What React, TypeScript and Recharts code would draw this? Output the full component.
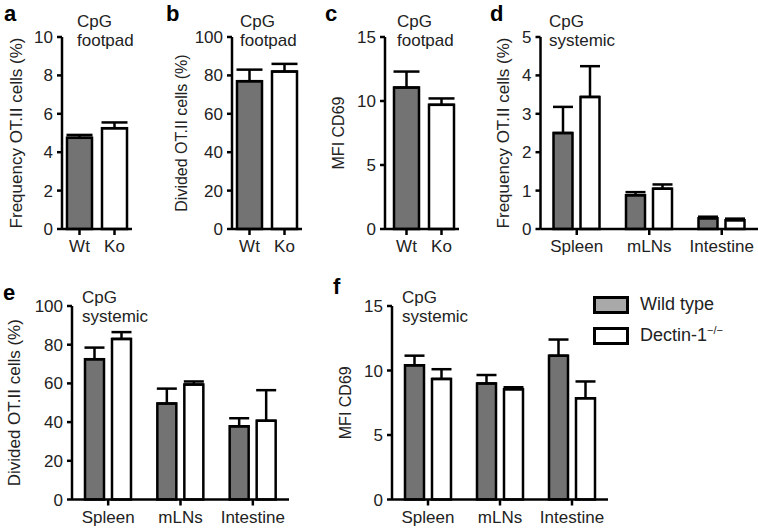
import React from 'react';
import { BarChart, Bar, Cell, XAxis, YAxis, ErrorBar, Legend } from 'recharts';

// footpad panels (a-c): one bar per genotype
const footpadGroups = ['Wt', 'Ko'];
const freqFootpad = [4.75, 5.25];
const freqFootpadErr = [0.15, 0.3];
const dividedFootpad = [77, 82];
const dividedFootpadErr = [6, 4];
const mfiFootpad = [11.05, 9.7];
const mfiFootpadErr = [1.25, 0.5];

// systemic panels (d-f): wild type vs dectin-1 KO per tissue
const tissues = ['Spleen', 'mLNs', 'Intestine'];
const freqSystemicWt = [2.5, 0.88, 0.28];
const freqSystemicWtErr = [0.68, 0.08, 0.04];
const freqSystemicKo = [3.44, 1.05, 0.23];
const freqSystemicKoErr = [0.8, 0.11, 0.04];
const dividedSystemicWt = [72.5, 49.6, 37.8];
const dividedSystemicWtErr = [6, 7.7, 4.2];
const dividedSystemicKo = [83, 59.4, 40.7];
const dividedSystemicKoErr = [3.5, 1.6, 15.8];
const mfiSystemicWt = [10.4, 9.0, 11.15];
const mfiSystemicWtErr = [0.75, 0.65, 1.25];
const mfiSystemicKo = [9.35, 8.55, 7.85];
const mfiSystemicKoErr = [0.75, 0.15, 1.3];

const seriesKeys = ['wt', 'ko'];
const seriesNames = ['Wild type', 'Dectin-1'];
const seriesSup = ['', '\u2212/\u2212'];

const tickPct10 = [0, 2, 4, 6, 8, 10];
const tickPct100 = [0, 20, 40, 60, 80, 100];
const tickMfi = [0, 5, 10, 15];
const tickFreq5 = [0, 1, 2, 3, 4, 5];

const FONT = '"Liberation Sans", Arial, Helvetica, sans-serif';
const TEXT = '#222';
const WT_FILL = '#737373';
const KO_FILL = '#ffffff';
const LEGEND_FILLS = ['#a9a9a9', '#ffffff'];
const XH = 40;
const TOP = 10;
const LINE_W = 2.5;

const footpadRows = (vals: number[], errs: number[]) =>
  footpadGroups.map((name, i) => ({ name, value: vals[i], err: [0, errs[i]] }));

const systemicRows = (wt: number[], wtErr: number[], ko: number[], koErr: number[]) =>
  tissues.map((name, i) => ({
    name,
    wt: wt[i],
    wtErr: [0, wtErr[i]],
    ko: ko[i],
    koErr: [0, koErr[i]],
  }));

type Frame = {
  axisX: number;
  topY: number;
  bottomY: number;
  rightX: number;
  labelX: number;
  extraRight?: number;
};

function frame(f: Frame) {
  const yw = f.axisX - f.labelX + 20;
  const plotW = f.rightX - f.axisX;
  const plotH = f.bottomY - f.topY;
  return {
    yw,
    style: { position: 'absolute' as const, left: f.axisX - yw, top: f.topY - TOP },
    width: yw + plotW + (f.extraRight || 0),
    height: TOP + plotH + XH,
  };
}

const axisLine = { stroke: '#000', strokeWidth: LINE_W };
const tickStyle = { fill: TEXT, fontSize: 17, fontFamily: FONT };

function yLabel(value: string, size: number) {
  return {
    value,
    angle: -90,
    position: 'insideLeft' as const,
    offset: 20,
    style: { textAnchor: 'middle', fill: TEXT, fontSize: size, fontFamily: FONT },
  };
}

function FootpadPanel(props: {
  f: Frame;
  rows: any[];
  yMax: number;
  ticks: number[];
  label: string;
  labelSize?: number;
  padLeft?: number;
}) {
  const fr = frame(props.f);
  return (
    <div style={fr.style}>
      <BarChart width={fr.width} height={fr.height} data={props.rows}
        margin={{ top: TOP, right: 0, left: 0, bottom: 0 }}>
        <XAxis dataKey="name" height={XH} axisLine={axisLine} tickLine={axisLine}
          tickSize={6} tickMargin={5} tick={tickStyle} interval={0}
          padding={{ left: props.padLeft || 0, right: 0 }} />
        <YAxis width={fr.yw} domain={[0, props.yMax]} ticks={props.ticks} axisLine={axisLine}
          tickLine={axisLine} tickSize={5} tickMargin={4} tick={tickStyle}
          label={yLabel(props.label, props.labelSize || 16)} />
        <Bar dataKey="value" barSize={25} stroke="#000" strokeWidth={LINE_W} isAnimationActive={false}>
          {props.rows.map((_, i) => (
            <Cell key={i} fill={i === 0 ? WT_FILL : KO_FILL} />
          ))}
          <ErrorBar dataKey="err" width={13} stroke="#000" strokeWidth={LINE_W} />
        </Bar>
      </BarChart>
    </div>
  );
}

function GenotypeLegend(props: any) {
  const payload: any[] = props.payload || [];
  const ordered = seriesKeys.map((k) => payload.find((p) => p.dataKey === k)).filter(Boolean);
  return (
    <div style={{ fontFamily: FONT, fontSize: 18, color: TEXT }}>
      {ordered.map((entry: any, i: number) => (
        <div key={i} style={{ display: 'flex', alignItems: 'center', height: 31 }}>
          <svg width={36} height={18} style={{ marginRight: 11 }}>
            <rect x={1.5} y={1.5} width={33} height={15} fill={LEGEND_FILLS[i]} stroke="#000" strokeWidth={3} />
          </svg>
          <span>
            {entry.value}
            {seriesSup[i] ? (
              <sup style={{ fontSize: 11, verticalAlign: 'baseline', position: 'relative', top: -7 }}>
                {seriesSup[i]}
              </sup>
            ) : null}
          </span>
        </div>
      ))}
    </div>
  );
}

function SystemicPanel(props: {
  f: Frame;
  rows: any[];
  yMax: number;
  ticks: number[];
  label: string;
  labelSize?: number;
  legend?: { left: number; top: number };
}) {
  const fr = frame(props.f);
  const chartLeft = props.f.axisX - fr.yw;
  const chartTop = props.f.topY - TOP;
  return (
    <div style={fr.style}>
      <BarChart width={fr.width} height={fr.height} data={props.rows} barGap={8}
        margin={{ top: TOP, right: props.f.extraRight || 0, left: 0, bottom: 0 }}>
        <XAxis dataKey="name" height={XH} axisLine={axisLine} tickLine={axisLine}
          tickSize={6} tickMargin={5} tick={tickStyle} interval={0} />
        <YAxis width={fr.yw} domain={[0, props.yMax]} ticks={props.ticks} axisLine={axisLine}
          tickLine={axisLine} tickSize={5} tickMargin={4} tick={tickStyle}
          label={yLabel(props.label, props.labelSize || 16)} />
        <Bar dataKey="wt" name={seriesNames[0]} barSize={19} fill={WT_FILL} stroke="#000"
          strokeWidth={LINE_W} isAnimationActive={false}>
          <ErrorBar dataKey="wtErr" width={10} stroke="#000" strokeWidth={LINE_W} />
        </Bar>
        <Bar dataKey="ko" name={seriesNames[1]} barSize={19} fill={KO_FILL} stroke="#000"
          strokeWidth={LINE_W} isAnimationActive={false}>
          <ErrorBar dataKey="koErr" width={10} stroke="#000" strokeWidth={LINE_W} />
        </Bar>
        {props.legend ? (
          <Legend layout="vertical" align="center" verticalAlign="middle"
            content={GenotypeLegend}
            wrapperStyle={{
              left: props.legend.left - chartLeft,
              top: props.legend.top - chartTop,
              width: 170,
            }} />
        ) : null}
      </BarChart>
    </div>
  );
}

const letters = [
  { t: 'a', x: 4, y: 21 },
  { t: 'b', x: 166, y: 21 },
  { t: 'c', x: 325, y: 21 },
  { t: 'd', x: 490, y: 21 },
  { t: 'e', x: 3, y: 300 },
  { t: 'f', x: 333, y: 294 },
];

const titles = [
  { x: 77, y: 27, l1: 'CpG', l2: 'footpad' },
  { x: 240, y: 27, l1: 'CpG', l2: 'footpad' },
  { x: 397, y: 27, l1: 'CpG', l2: 'footpad' },
  { x: 549, y: 27, l1: 'CpG', l2: 'systemic' },
  { x: 82, y: 303, l1: 'CpG', l2: 'systemic' },
  { x: 402, y: 303, l1: 'CpG', l2: 'systemic' },
];

export default function App() {
  return (
    <div style={{ position: 'absolute', left: 0, top: 0, width: 758, height: 531, background: '#fff', overflow: 'hidden' }}>
      <FootpadPanel f={{ axisX: 62, topY: 37, bottomY: 229, rightX: 132, labelX: 16 }}
        rows={footpadRows(freqFootpad, freqFootpadErr)} yMax={10} ticks={tickPct10}
        label="Frequency OT.II cells (%)" labelSize={17} />
      <FootpadPanel f={{ axisX: 232, topY: 37, bottomY: 229, rightX: 302, labelX: 181 }}
        rows={footpadRows(dividedFootpad, dividedFootpadErr)} yMax={100} ticks={tickPct100}
        label="Divided OT.II cells (%)" />
      <FootpadPanel f={{ axisX: 385, topY: 37, bottomY: 229, rightX: 459, labelX: 338 }}
        rows={footpadRows(mfiFootpad, mfiFootpadErr)} yMax={15} ticks={tickMfi}
        label="MFI CD69" padLeft={4} />
      <SystemicPanel f={{ axisX: 540.5, topY: 37, bottomY: 229, rightX: 758, labelX: 503 }}
        rows={systemicRows(freqSystemicWt, freqSystemicWtErr, freqSystemicKo, freqSystemicKoErr)}
        yMax={5} ticks={tickFreq5} label="Frequency OT.II cells (%)" labelSize={17} />
      <SystemicPanel f={{ axisX: 72, topY: 305.5, bottomY: 499, rightX: 289, labelX: 14 }}
        rows={systemicRows(dividedSystemicWt, dividedSystemicWtErr, dividedSystemicKo, dividedSystemicKoErr)}
        yMax={100} ticks={tickPct100} label="Divided OT.II cells (%)" labelSize={17} />
      <SystemicPanel f={{ axisX: 392, topY: 305.5, bottomY: 499, rightX: 608, labelX: 345, extraRight: 150 }}
        rows={systemicRows(mfiSystemicWt, mfiSystemicWtErr, mfiSystemicKo, mfiSystemicKoErr)}
        yMax={15} ticks={tickMfi} label="MFI CD69" legend={{ left: 593, top: 289 }} />
      <svg width={758} height={531} style={{ position: 'absolute', left: 0, top: 0, pointerEvents: 'none' }}>
        {letters.map((l) => (
          <text key={l.t} x={l.x} y={l.y} fontFamily={FONT} fontSize={22} fontWeight="bold" fill="#000">
            {l.t}
          </text>
        ))}
        {titles.map((t, i) => (
          <text key={i} x={t.x} y={t.y} fontFamily={FONT} fontSize={17} fill={TEXT}>
            <tspan x={t.x}>{t.l1}</tspan>
            <tspan x={t.x} dy={19}>{t.l2}</tspan>
          </text>
        ))}
      </svg>
    </div>
  );
}
